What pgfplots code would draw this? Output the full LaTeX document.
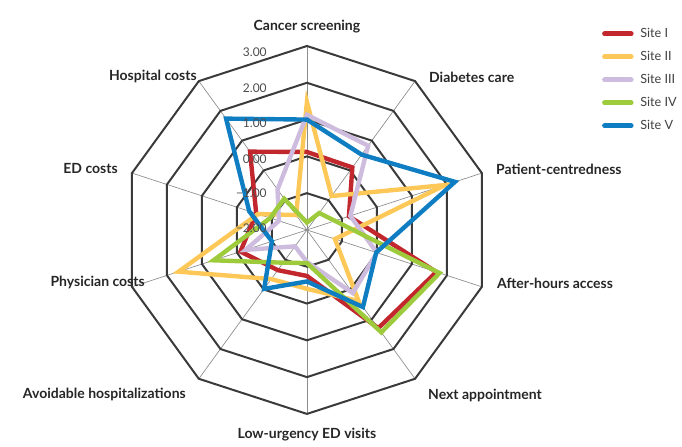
\documentclass[border=0pt]{standalone}
\usepackage{fontspec}
\setmainfont{Lato}
\usepackage{pgfplots}
\usepackage{pgfplotstable}
\pgfplotsset{compat=1.18}

\definecolor{cI}{HTML}{C1272D}
\definecolor{cII}{HTML}{FDC858}
\definecolor{cIII}{HTML}{CDBCDD}
\definecolor{cIV}{HTML}{9DCB3B}
\definecolor{cV}{HTML}{0F7DC2}
\definecolor{ring}{HTML}{3A3A3A}

% scores per site, one row per spoke (angle in degrees)
\pgfplotstableread{
ang   I     II    III   IV    V
90    0.12  1.48  1.13  -1.80 1.00
54    0.10  -0.86 0.83  -1.43 0.53
18    -0.80 1.95  -0.76 -1.20 2.23
-18   1.70  -1.20 0.00  1.79  -0.02
-54   1.30  0.39  0.12  1.44  0.59
-90   -0.75 -0.40 -1.13 -1.10 -0.60
-126  -0.65 -0.35 -1.45 -0.90 -0.02
-162  -0.10 1.67  -0.25 0.67  -1.00
162   -0.55 -0.60 -1.20 -0.95 -0.35
126   0.63  -1.50 -0.64 -0.95 1.74
}\radar

\def\R{36.8}

\begin{document}
\begin{tikzpicture}[
 lab/.style={font=\fontsize{10.5}{12}\selectfont\bfseries,text=black!85,inner sep=0pt},
 tk/.style={font=\fontsize{9}{10}\selectfont,text=black!70,anchor=east,inner sep=0pt},
 site/.style={line width=3.3pt}]
\begin{axis}[
 x=0.75pt,y=0.75pt,
 xmin=-307,xmax=375,ymin=-217,ymax=230,
 hide axis,clip=false,
 legend style={at={(axis cs:291,206)},anchor=north west,draw=none,fill=none,
   font=\fontsize{9.5}{10}\selectfont\color{black!75},row sep=6.8pt,
   nodes={inner sep=1pt},
   /tikz/every odd column/.append style={column sep=4pt}},
 legend cell align=left,
 legend image code/.code={\draw[#1,line width=3.6pt,line cap=round] (0pt,0pt) -- (20pt,0pt);}
]
\path (rel axis cs:0,0) rectangle (rel axis cs:1,1);

% spokes
\pgfplotsinvokeforeach{90,54,18,-18,-54,-90,-126,-162,162,126}{
 \draw[black!45,line width=0.5pt] (axis cs:0,0) -- (axis cs:{5*\R*cos(#1)},{5*\R*sin(#1)});
}
% rings
\pgfplotsinvokeforeach{-1,0,1,2,3}{
 \addplot[ring,line width=1.5pt,forget plot] table[x expr={\R*(#1+2)*cos(\thisrow{ang})},y expr={\R*(#1+2)*sin(\thisrow{ang})}] {\radar} -- cycle;
}

\addplot[site,cI] table[x expr={\R*(\thisrow{I}+2)*cos(\thisrow{ang})},y expr={\R*(\thisrow{I}+2)*sin(\thisrow{ang})}] {\radar} -- cycle;
\addlegendentry{Site I}
\addplot[site,cII] table[x expr={\R*(\thisrow{II}+2)*cos(\thisrow{ang})},y expr={\R*(\thisrow{II}+2)*sin(\thisrow{ang})}] {\radar} -- cycle;
\addlegendentry{Site II}
\addplot[site,cIII] table[x expr={\R*(\thisrow{III}+2)*cos(\thisrow{ang})},y expr={\R*(\thisrow{III}+2)*sin(\thisrow{ang})}] {\radar} -- cycle;
\addlegendentry{Site III}
\addplot[site,cIV] table[x expr={\R*(\thisrow{IV}+2)*cos(\thisrow{ang})},y expr={\R*(\thisrow{IV}+2)*sin(\thisrow{ang})}] {\radar} -- cycle;
\addlegendentry{Site IV}
\addplot[site,cV] table[x expr={\R*(\thisrow{V}+2)*cos(\thisrow{ang})},y expr={\R*(\thisrow{V}+2)*sin(\thisrow{ang})}] {\radar} -- cycle;
\addlegendentry{Site V}

% value labels
\node[tk] at (axis cs:-40,178) {3.00};
\node[tk] at (axis cs:-40,142) {2.00};
\node[tk] at (axis cs:-40,107) {1.00};
\node[tk] at (axis cs:-40,71) {0.00};
\node[tk] at (axis cs:-40,37) {−1.00};
\node[tk] at (axis cs:-40,2) {−2.00};

% category labels
\node[lab] at (axis cs:0,203) {Cancer screening};
\node[lab,anchor=west] at (axis cs:122,153) {Diabetes care};
\node[lab,anchor=west] at (axis cs:189,61) {Patient-centredness};
\node[lab,anchor=west] at (axis cs:190,-53) {After-hours access};
\node[lab,anchor=west] at (axis cs:121,-166) {Next appointment};
\node[lab] at (axis cs:0,-205) {Low-urgency ED visits};
\node[lab,anchor=east] at (axis cs:-121,-165) {Avoidable hospitalizations};
\node[lab,anchor=east] at (axis cs:-162,-53) {Physician costs};
\node[lab,anchor=east] at (axis cs:-189,61) {ED costs};
\node[lab,anchor=east] at (axis cs:-110,154) {Hospital costs};
\end{axis}
\end{tikzpicture}
\end{document}
